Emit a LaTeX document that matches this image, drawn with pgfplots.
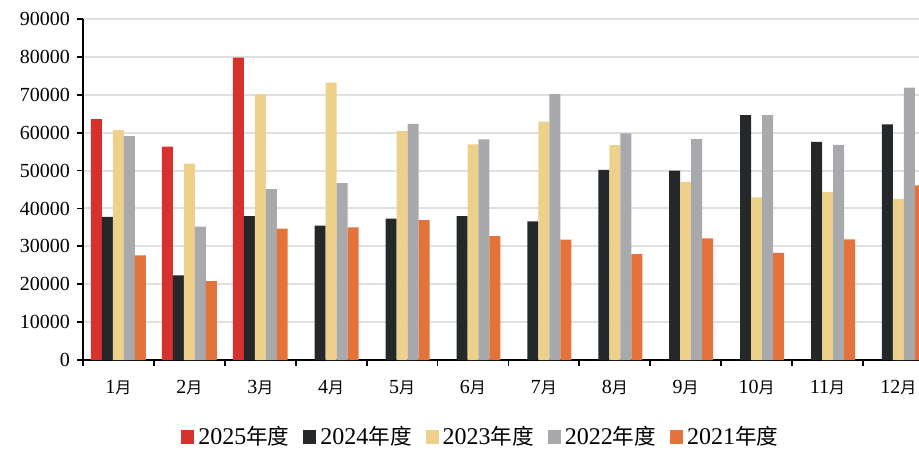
\documentclass[border=0pt]{standalone}
\usepackage{pgfplots}
\pgfplotsset{compat=1.18}
\usepackage{pgfplotstable}
\usepackage{fontspec}
\setmainfont{Liberation Serif}
\newfontfamily\cjk[Scale=0.8]{Noto Sans CJK SC}
\newfontfamily\cjkl[Scale=0.9]{Noto Sans CJK SC}

\definecolor{c25}{HTML}{D6312D}
\definecolor{c24}{HTML}{25282A}
\definecolor{c23}{HTML}{EDD08A}
\definecolor{c22}{HTML}{A8A9AC}
\definecolor{c21}{HTML}{E3733A}

% monthly values, x = month index (0 = Jan)
\pgfplotstableread{
x y2024 y2023 y2022 y2021
0 37800 60700 59100 27600
1 22350 51800 35200 20850
2 38000 70100 45100 34650
3 35450 73200 46700 35000
4 37300 60400 62300 36950
5 38000 56900 58200 32700
6 36600 62900 70200 31750
7 50150 56700 59800 27950
8 49950 47000 58300 32100
9 64650 42900 64650 28250
10 57600 44300 56800 31850
11 62200 42500 71900 46100
}\sales

\begin{document}
\begin{tikzpicture}
\begin{axis}[
	scale only axis,
	width=418pt, height=170.5pt,
	ybar, bar width=0.155,
	xmin=-0.5, xmax=11.29,
	ymin=0, ymax=90000,
	axis lines*=left,
	axis line style={black, line width=0.9pt},
	tick align=outside,
	major tick length=3pt,
	tick style={black, line width=0.9pt},
	xtick={-0.5,0.5,...,10.5},
	xticklabels={},
	extra x ticks={0,1,...,11},
	extra x tick labels={1{\cjk 月},2{\cjk 月},3{\cjk 月},4{\cjk 月},5{\cjk 月},6{\cjk 月},7{\cjk 月},8{\cjk 月},9{\cjk 月},10{\cjk 月},11{\cjk 月},12{\cjk 月}},
	extra x tick style={major tick length=0pt, ticklabel style={yshift=-6.5pt}},
	ytick={0,10000,...,90000},
	scaled y ticks=false,
	ymajorgrids,
	grid style={color=black!12, line width=1pt},
	tick label style={font=\fontsize{10}{12}\selectfont},
	/pgf/number format/1000 sep={},
	/pgf/number format/assume math mode=true,
	legend style={at={(0.477,-0.226)}, anchor=center, draw=none,
		font=\fontsize{12}{14}\selectfont,
		legend columns=-1,
		/tikz/every even column/.append style={column sep=5pt}},
	legend image code/.code={\fill[#1] (0pt,-3.3pt) rectangle (6.5pt,3.3pt);},
]

\addplot[fill=c25, draw=none, bar shift=-0.31] coordinates {
	(0,63600) (1,56300) (2,79800)
};
\addplot[fill=c24, draw=none, bar shift=-0.155] table[x=x, y=y2024] {\sales};
\addplot[fill=c23, draw=none, bar shift=0] table[x=x, y=y2023] {\sales};
\addplot[fill=c22, draw=none, bar shift=0.155] table[x=x, y=y2022] {\sales};
\addplot[fill=c21, draw=none, bar shift=0.31] table[x=x, y=y2021] {\sales};

\legend{2025{\cjkl 年度}, 2024{\cjkl 年度}, 2023{\cjkl 年度}, 2022{\cjkl 年度}, 2021{\cjkl 年度}}
\end{axis}
\pgfresetboundingbox
\path ([xshift=-41.5pt,yshift=-44.5pt]current axis.south west) rectangle ([yshift=9.5pt]current axis.north east);
\end{tikzpicture}
\end{document}
